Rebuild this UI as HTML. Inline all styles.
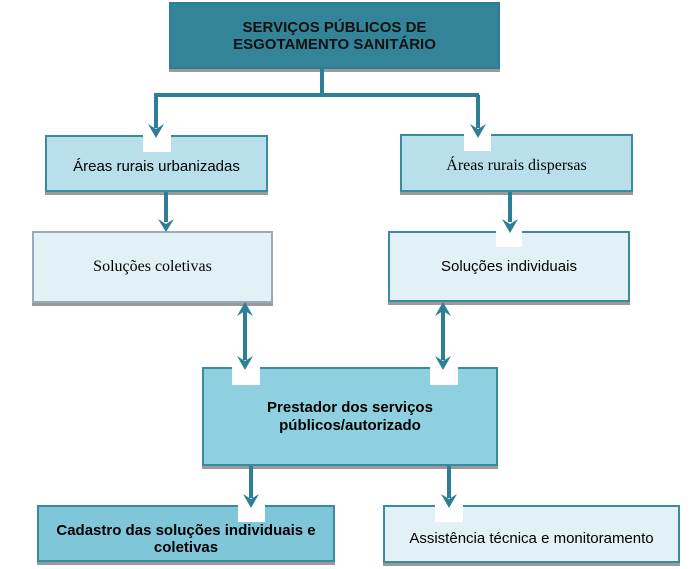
<!DOCTYPE html>
<html><head><meta charset="utf-8"><style>
body{margin:0;width:694px;height:569px;background:#fff;position:relative;overflow:hidden;font-family:"Liberation Sans",sans-serif}
.b{position:absolute;box-sizing:border-box;display:flex;align-items:center;justify-content:center;text-align:center;border:2px solid #3a8aa0;box-shadow:0 3px 0 #9a9a9a}
.n{position:absolute;background:#fff}
svg{position:absolute;left:0;top:0}
</style></head><body>
<div class="b" style="left:169px;top:2px;width:331px;height:67px;background:#338499;border-color:#2e7d92;font-weight:bold;font-size:15px;line-height:17px;color:#111">SERVIÇOS PÚBLICOS DE<br>ESGOTAMENTO SANITÁRIO</div>
<div class="b" style="left:45px;top:135px;width:223px;height:57px;background:#b9e0ea;font-size:15px;padding-top:6px">Áreas rurais urbanizadas</div>
<div class="b" style="left:400px;top:134px;width:233px;height:58px;background:#b9e0ea;font-family:'Liberation Serif',serif;font-size:16px;padding-top:6px">Áreas rurais dispersas</div>
<div class="b" style="left:32px;top:231px;width:241px;height:72px;background:#e2f1f6;border-color:#9ab;font-family:'Liberation Serif',serif;font-size:16px">Soluções coletivas</div>
<div class="b" style="left:388px;top:231px;width:242px;height:71px;background:#e2f1f6;border-color:#3a8aa0;font-size:15px">Soluções individuais</div>
<div class="b" style="left:202px;top:367px;width:296px;height:99px;background:#8fd0e0;font-weight:bold;font-size:15px;line-height:18px">Prestador dos serviços<br>públicos/autorizado</div>
<div class="b" style="left:37px;top:505px;width:298px;height:57px;background:#80c6d9;font-weight:bold;font-size:15px;line-height:17px;padding-top:10px">Cadastro das soluções individuais e<br>coletivas</div>
<div class="b" style="left:383px;top:505px;width:297px;height:58px;background:#e2f1f6;font-size:15px;padding-top:8px">Assistência técnica e monitoramento</div>
<div class="n" style="left:143px;top:135px;width:28px;height:17px"></div>
<div class="n" style="left:464px;top:134px;width:27px;height:17px"></div>
<div class="n" style="left:496px;top:231px;width:26px;height:16px"></div>
<div class="n" style="left:232px;top:367px;width:28px;height:18px"></div>
<div class="n" style="left:430px;top:367px;width:28px;height:18px"></div>
<div class="n" style="left:238px;top:505px;width:27px;height:17px"></div>
<div class="n" style="left:435px;top:505px;width:28px;height:17px"></div>
<svg width="694" height="569">
<g stroke="#2e7f95" stroke-width="4" fill="none">
<path d="M322 69V95M154 95H479M156 95V128M478 95V128"/>
<path d="M166 192V222M510 192V222"/>
<path d="M245 310V360M443 310V360"/>
<path d="M251 466V498M449 466V498"/>
</g>
<g fill="#2e7f95">
<path d="M148 124L156 138L164 124L156 129Z"/>
<path d="M470 124L478 138L486 124L478 129Z"/>
<path d="M158 219L166 232L174 219L166 224Z"/>
<path d="M502 219L510 233L518 219L510 224Z"/>
<path d="M237 316L245 302L253 316L245 311Z"/>
<path d="M237 356L245 370L253 356L245 361Z"/>
<path d="M435 316L443 302L451 316L443 311Z"/>
<path d="M435 356L443 370L451 356L443 361Z"/>
<path d="M243 494L251 508L259 494L251 499Z"/>
<path d="M441 494L449 508L457 494L449 499Z"/>
</g>
</svg>
</body></html>
